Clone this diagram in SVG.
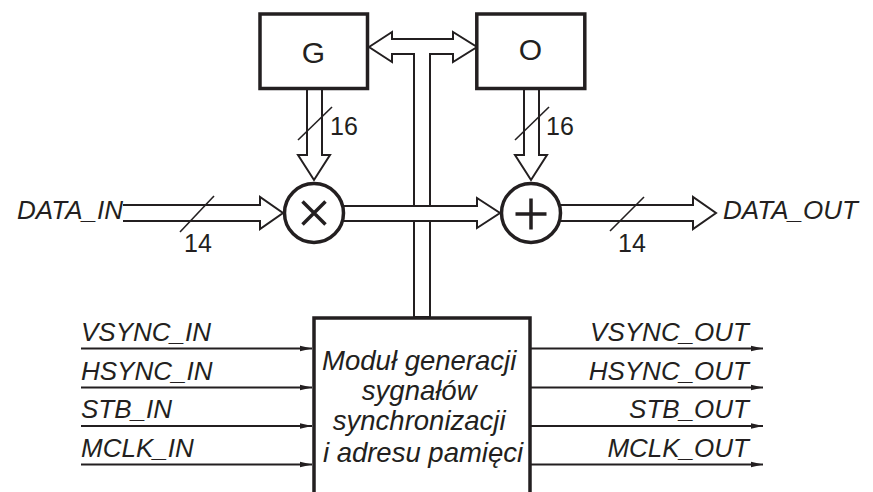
<svg xmlns="http://www.w3.org/2000/svg" width="873" height="492" viewBox="0 0 873 492">
<style>
.box{fill:#fff;stroke:#231f20;stroke-width:3.5}
.bus{fill:#fff;stroke:#231f20;stroke-width:2;stroke-linejoin:miter}
.sig{fill:none;stroke:#231f20;stroke-width:2}
.slash{fill:none;stroke:#231f20;stroke-width:1.6}
.sym{fill:none;stroke:#231f20;stroke-width:3.5}
.t{font-family:"Liberation Sans",Arial,sans-serif;fill:#231f20}
.lbl{font-size:26px;font-style:italic}
.num{font-size:25px}
.big{font-size:30px}
.mod{font-size:27.5px;font-style:italic}
</style>
<defs>
<marker id="ah" markerUnits="userSpaceOnUse" markerWidth="14" markerHeight="8" refX="12" refY="4" orient="auto">
<path d="M0,1.2 L12,4 L0,6.8 Z" fill="#231f20"/>
</marker>
</defs>
<g id="connectors">
<path class="bus" d="M369,47 L392,32 V39 H453 V32 L477,47 L453,62 V54 H430 V317 H414 V54 H392 V62 Z"/>
<path class="bus" d="M307,90 V155 H298 L314,180 L330,155 H322 V90"/>
<path class="bus" d="M524,90 V155 H515 L531,180 L547,155 H539 V90"/>
<path class="bus" d="M123,205 H260 V197 L283,213 L260,229 V221 H123"/>
<path class="bus" d="M340,206 H477 V198 L500,213 L477,228 V221 H340"/>
<path class="bus" d="M558,205 H693 V197 L716,213 L693,229 V221 H558"/>
<line class="slash" x1="298" y1="140" x2="332" y2="107"/>
<line class="slash" x1="515" y1="140" x2="549" y2="107"/>
<line class="slash" x1="180" y1="232" x2="214" y2="196"/>
<line class="slash" x1="610" y1="231" x2="644" y2="197"/>
<path class="sig" marker-end="url(#ah)" d="M81,348.5 H312"/>
<path class="sig" marker-end="url(#ah)" d="M81,387.5 H312"/>
<path class="sig" marker-end="url(#ah)" d="M81,426 H312"/>
<path class="sig" marker-end="url(#ah)" d="M81,464.5 H312"/>
<path class="sig" marker-end="url(#ah)" d="M531,348.5 H763"/>
<path class="sig" marker-end="url(#ah)" d="M531,387.5 H763"/>
<path class="sig" marker-end="url(#ah)" d="M531,426 H763"/>
<path class="sig" marker-end="url(#ah)" d="M531,464.5 H763"/>
</g>
<g id="G">
<rect class="box" x="260" y="14" width="107.5" height="74.5"/>
<text class="t big" x="313.5" y="63" text-anchor="middle">G</text>
</g>
<g id="O">
<rect class="box" x="476.8" y="14" width="108" height="74.5"/>
<text class="t big" x="530.5" y="60" text-anchor="middle">O</text>
</g>
<g id="mult">
<circle class="box" cx="314" cy="213" r="29.5"/>
<path class="sym" d="M302.5,201.5 L325.5,224.5 M325.5,201.5 L302.5,224.5"/>
</g>
<g id="add">
<circle class="box" cx="531" cy="213" r="29.5"/>
<path class="sym" d="M515.5,214 H546.5 M531,198.5 V229.5"/>
</g>
<g id="module">
<rect class="box" x="314" y="318" width="216" height="190"/>
<text class="t mod" text-anchor="middle">
<tspan x="423" y="370">Moduł generacji</tspan>
<tspan x="423" y="400">sygnałów</tspan>
<tspan x="423" y="430">synchronizacji</tspan>
<tspan x="423" y="461.5">i adresu pamięci</tspan>
</text>
</g>
<g id="labels">
<text class="t lbl" x="123" y="219" text-anchor="end">DATA_IN</text>
<text class="t lbl" x="723" y="219">DATA_OUT</text>
<text class="t num" x="330" y="135">16</text>
<text class="t num" x="546" y="135">16</text>
<text class="t num" x="184" y="252">14</text>
<text class="t num" x="618" y="252">14</text>
<text class="t lbl" x="81" y="340.5">VSYNC_IN</text>
<text class="t lbl" x="81" y="380">HSYNC_IN</text>
<text class="t lbl" x="81" y="418">STB_IN</text>
<text class="t lbl" x="81" y="456.5">MCLK_IN</text>
<text class="t lbl" x="749" y="340.5" text-anchor="end">VSYNC_OUT</text>
<text class="t lbl" x="749" y="380" text-anchor="end">HSYNC_OUT</text>
<text class="t lbl" x="749" y="418" text-anchor="end">STB_OUT</text>
<text class="t lbl" x="749" y="456.5" text-anchor="end">MCLK_OUT</text>
</g>
</svg>
